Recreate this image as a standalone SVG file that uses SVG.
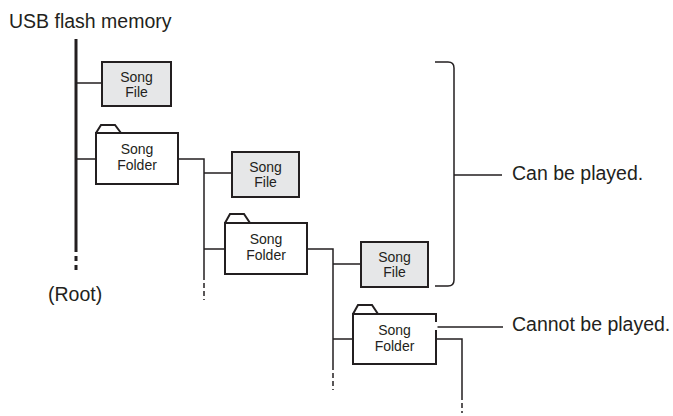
<svg xmlns="http://www.w3.org/2000/svg" width="673" height="416" viewBox="0 0 673 416">
<style>
.t{font-family:"Liberation Sans",Arial,sans-serif;fill:#231f20}
.big{font-size:19.5px}
.sm{font-size:14px;text-anchor:middle}
.ln{stroke:#231f20;stroke-width:1.5;fill:none}
.file{fill:#e6e7e8;stroke:#231f20;stroke-width:2}
.fold{fill:#fff;stroke:#231f20;stroke-width:2;stroke-linejoin:miter}
.dash{stroke:#231f20;stroke-width:1.5;stroke-dasharray:5 3;fill:none}
</style>
<rect width="673" height="416" fill="#fff"/>
<text class="t big" x="9" y="28">USB flash memory</text>
<g id="connectors">
<line x1="76" y1="39" x2="76" y2="247" stroke="#231f20" stroke-width="3"/>
<line x1="76" y1="247" x2="76" y2="272" stroke="#231f20" stroke-width="3" stroke-dasharray="5 4"/>
<path class="ln" d="M76 83H102M76 159H96M178 159H204V275M204 173H232M204 249H225M307 249H333V365M333 264H361M333 339H353M436 339H462V395"/>
<path class="dash" d="M204 275V300M333 365V390M462 395V413"/>
<path class="ln" d="M435 62H448Q454 62 454 68V280Q454 286 448 286H435M454 175H502"/>
<path class="ln" d="M432 327H503"/>
</g>
<g id="root"><text class="t big" x="48" y="301">(Root)</text></g>
<g id="file1"><rect class="file" x="102" y="62" width="69" height="44"/><text class="t sm" x="136.5" y="82">Song</text><text class="t sm" x="136.5" y="97">File</text></g>
<g id="folder1"><path class="fold" d="M96 133L101 125H115L121 133"/><rect class="fold" x="96" y="133" width="82" height="51"/><text class="t sm" x="137" y="154">Song</text><text class="t sm" x="137" y="170">Folder</text></g>
<g id="file2"><rect class="file" x="232" y="152" width="67" height="45"/><text class="t sm" x="265.5" y="172">Song</text><text class="t sm" x="265.5" y="187">File</text></g>
<g id="folder2"><path class="fold" d="M225 223L230 214H244L250 223"/><rect class="fold" x="225" y="223" width="82" height="51"/><text class="t sm" x="266" y="244">Song</text><text class="t sm" x="266" y="260">Folder</text></g>
<g id="file3"><rect class="file" x="361" y="242" width="67" height="45"/><text class="t sm" x="394.5" y="262">Song</text><text class="t sm" x="394.5" y="277">File</text></g>
<g id="folder3"><path class="fold" d="M353 314L358 305H372L378 314"/><rect class="fold" x="353" y="314" width="83" height="50"/><line x1="436" y1="322" x2="436" y2="330" stroke="#fff" stroke-width="3"/><text class="t sm" x="394.5" y="335">Song</text><text class="t sm" x="394.5" y="351">Folder</text></g>
<g id="label1"><text class="t big" x="512" y="180">Can be played.</text></g>
<g id="label2"><text class="t big" x="512" y="331">Cannot be played.</text></g>
</svg>
